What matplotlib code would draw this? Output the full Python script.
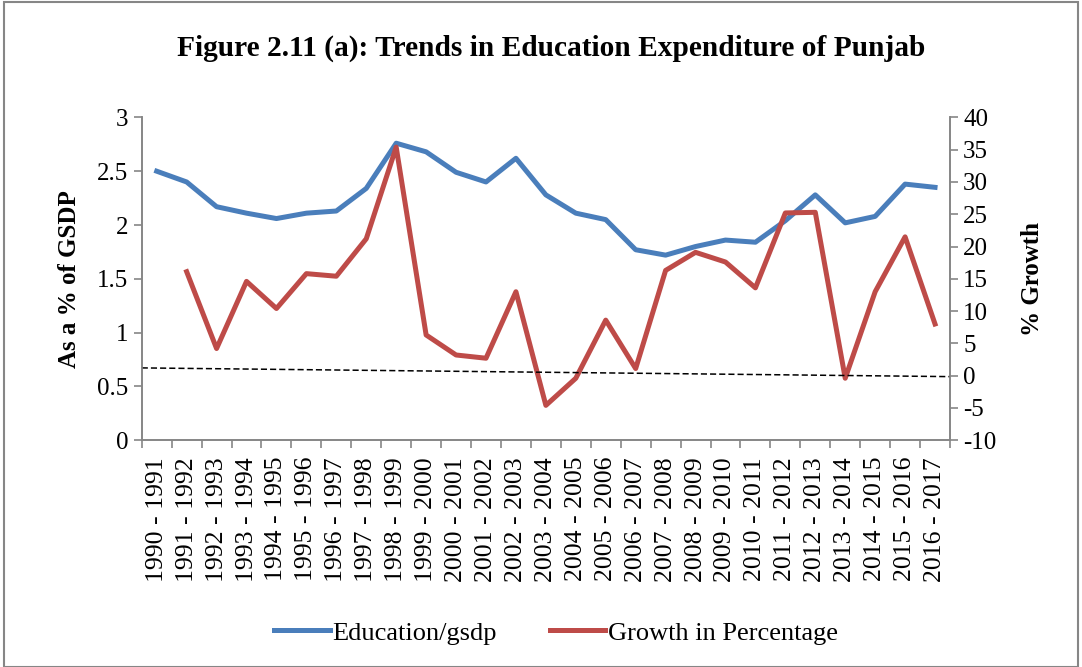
import matplotlib
matplotlib.use("Agg")
import matplotlib.pyplot as plt
from matplotlib.patches import Rectangle

plt.rcParams["font.family"] = ["Liberation Serif", "DejaVu Serif"]
plt.rcParams["axes.unicode_minus"] = False

# financial years
years = ["%d - %d" % (y, y + 1) for y in range(1990, 2017)]
# education expenditure as a % of GSDP (left axis)
edu_gsdp = [2.50, 2.40, 2.17, 2.11, 2.06, 2.11, 2.13, 2.34, 2.76, 2.68,
            2.49, 2.40, 2.62, 2.28, 2.11, 2.05, 1.77, 1.72, 1.80, 1.86,
            1.84, 2.04, 2.28, 2.02, 2.08, 2.38, 2.35]
# growth in percentage (right axis), no value for the first year
growth = [None, 16.1, 4.2, 14.6, 10.4, 15.8, 15.4, 21.2, 35.4, 6.3,
          3.2, 2.7, 13.0, -4.6, -0.4, 8.6, 1.1, 16.3, 19.1, 17.6,
          13.6, 25.2, 25.3, -0.4, 13.0, 21.5, 8.0]
# dashed trend line end values (right axis)
trend_ends = [1.2, -0.15]

BLUE = "#4A7EBB"
RED = "#BE4B48"
GRAY = "#868686"

fig = plt.figure(figsize=(10.82, 6.67), dpi=100)
ax = fig.add_axes([0.131, 0.340, 0.747, 0.484])
ax2 = ax.twinx()

x = list(range(len(years)))
line1, = ax.plot(x, edu_gsdp, color=BLUE, lw=3.6, solid_joinstyle="round",
                 label="Education/gsdp")
gx = [i for i, v in zip(x, growth) if v is not None]
gy = [v for v in growth if v is not None]
line2, = ax2.plot(gx, gy, color=RED, lw=3.6, solid_joinstyle="round",
                  label="Growth in Percentage")
ax2.plot([-0.5, len(years) - 0.5], trend_ends, color="black", lw=1.1,
         ls=(0, (4, 2)))

ax.set_xlim(-0.5, len(years) - 0.5)
ax.set_ylim(0, 3)
ax2.set_ylim(-10, 40)
ax.set_yticks([0, 0.5, 1, 1.5, 2, 2.5, 3])
ax.set_yticklabels(["0", "0.5", "1", "1.5", "2", "2.5", "3"])
ax2.set_yticks(range(-10, 41, 5))

ax.set_xticks(x)
ax.set_xticklabels(years, rotation=90, fontsize=18.5)
ax.set_xticks([i - 0.5 for i in range(len(years) + 1)], minor=True)
ax.tick_params(axis="x", which="major", length=0, pad=12)
ax.tick_params(axis="x", which="minor", length=6, color=GRAY, width=1.2)
ax.tick_params(axis="y", labelsize=18, length=6, color=GRAY, width=1.2)
ax2.tick_params(axis="y", labelsize=18, length=6, color=GRAY, width=1.2)

for a in (ax, ax2):
    a.spines["top"].set_visible(False)
    for s in ("left", "right", "bottom"):
        a.spines[s].set_color(GRAY)
        a.spines[s].set_linewidth(1.2)

ax.set_ylabel("As a % of GSDP", fontsize=18, fontweight="bold", labelpad=12)
ax2.set_ylabel("% Growth", fontsize=18, fontweight="bold", labelpad=18)

fig.text(0.509, 0.928, "Figure 2.11 (a): Trends in Education Expenditure of Punjab",
         ha="center", va="center", fontsize=21.2, fontweight="bold")

fig.legend(handles=[line1, line2], loc="center", bbox_to_anchor=(0.514, 0.051),
           ncol=2, frameon=False, fontsize=19, handlelength=2.1,
           handletextpad=0.1, columnspacing=2.0)

fig.patches.append(Rectangle((0.004, 0.0), 0.992, 0.997, transform=fig.transFigure,
                             fill=False, edgecolor=GRAY, lw=1.5))

fig.savefig("out.png", dpi=100)
